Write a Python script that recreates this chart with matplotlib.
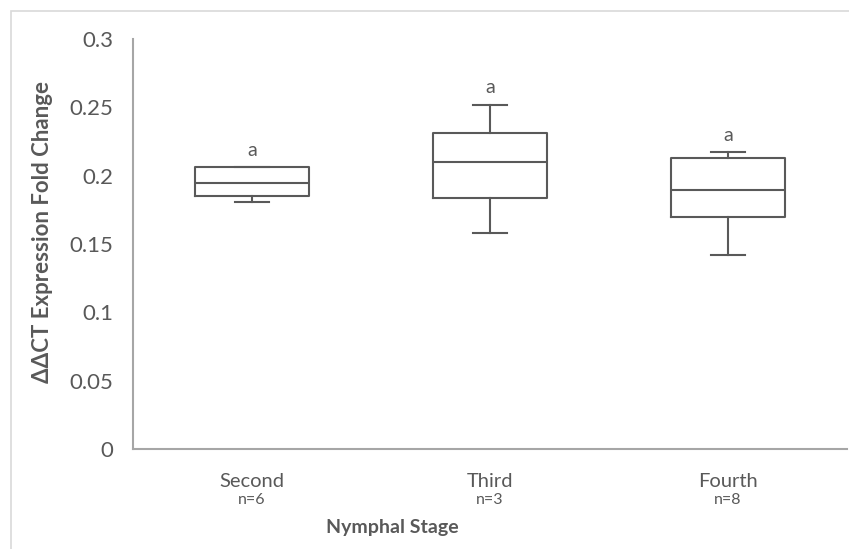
"""Box plot of ddCT expression fold change by nymphal stage."""

import matplotlib

matplotlib.use("Agg")
import matplotlib.pyplot as plt
from matplotlib.patches import Rectangle

# data
stages = ["Second", "Third", "Fourth"]
counts = ["n=6", "n=3", "n=8"]
whisker_low = [0.181, 0.158, 0.142]
q1 = [0.185, 0.184, 0.170]
median = [0.195, 0.210, 0.1895]
q3 = [0.206, 0.231, 0.213]
whisker_high = [0.206, 0.252, 0.217]
letters = ["a", "a", "a"]

BOX = "#595959"
AXIS = "#a6a6a6"
TEXT = "#595959"

plt.rcParams["font.family"] = ["Lato", "DejaVu Sans"]

fig = plt.figure(figsize=(8.49, 5.49), dpi=100)
ax = fig.add_axes([133 / 849, 1 - 449 / 549, 714 / 849, 410 / 549])

# outer chart-area frame
fig.patches.append(Rectangle((11 / 849, -0.05), 1.0, 1 - 11 / 549 + 0.05,
                             transform=fig.transFigure, fill=False,
                             edgecolor="#d9d9d9", linewidth=1.2))

stats = []
for i, name in enumerate(stages):
    stats.append({"label": name, "whislo": whisker_low[i], "q1": q1[i],
                  "med": median[i], "q3": q3[i], "whishi": whisker_high[i]})

positions = list(range(1, len(stages) + 1))
line = {"color": BOX, "linewidth": 1.5}
ax.bxp(stats, positions=positions, widths=0.48, showfliers=False,
       boxprops=line, medianprops=line, whiskerprops=line,
       capprops=line, capwidths=0.143)

for pos, top, letter in zip(positions, whisker_high, letters):
    ax.text(pos, top + 0.006, letter, ha="center", va="bottom",
            fontsize=14, color=TEXT)

ax.set_xlim(0.5, 3.5)
ax.set_ylim(0, 0.3)
ax.set_yticks([0, 0.05, 0.1, 0.15, 0.2, 0.25, 0.3])
ax.set_yticklabels(["0", "0.05", "0.1", "0.15", "0.2", "0.25", "0.3"])
ax.set_xticks(positions)
ax.set_xticklabels([])
ax.tick_params(axis="both", length=0, labelsize=16, labelcolor=TEXT, pad=14)

# category names with sample sizes underneath
for pos, name, n in zip(positions, stages, counts):
    ax.text(pos, -0.0235, name, ha="center", va="center", fontsize=14.5,
            color=TEXT)
    ax.text(pos, -0.0375, n, ha="center", va="center", fontsize=11.5,
            color=TEXT)

for side in ("top", "right"):
    ax.spines[side].set_visible(False)
for side in ("left", "bottom"):
    ax.spines[side].set_color(AXIS)
    ax.spines[side].set_linewidth(1.5)

fig.text(392 / 849, 1 - 528 / 549, "Nymphal Stage", ha="center", va="center",
         fontsize=14, fontweight="bold", color=TEXT)
fig.text(43 / 849, 1 - 232 / 549, "ΔΔCT Expression Fold Change", ha="center",
         va="center", rotation=90, fontsize=16, fontweight="bold", color=TEXT)

fig.savefig("out.png", dpi=100)
